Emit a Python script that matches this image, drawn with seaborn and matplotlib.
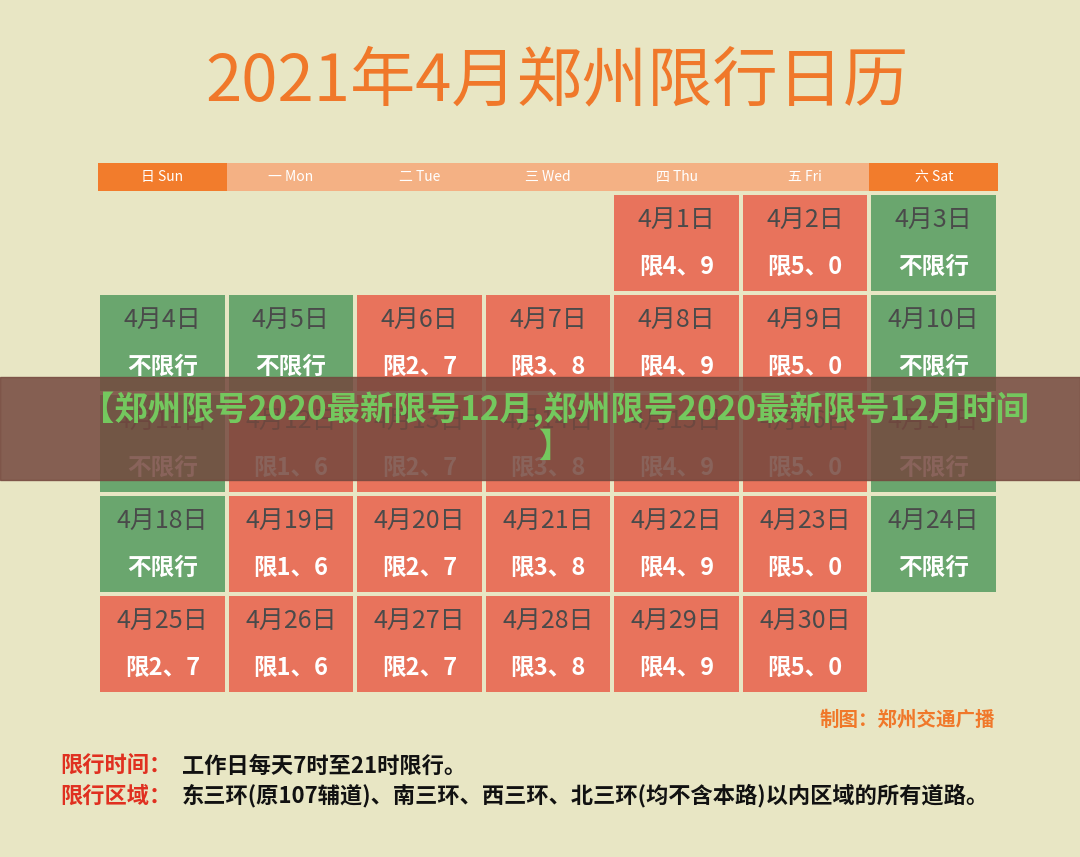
import matplotlib
matplotlib.use('Agg')
import numpy as np
import matplotlib.pyplot as plt
import seaborn as sns
from matplotlib.colors import ListedColormap

sns.set_style('white')
plt.rcParams['font.family'] = ['Noto Sans CJK SC', 'DejaVu Sans']

# data
title = '2021年4月郑州限行日历'
weekdays = ['日 Sun', '一 Mon', '二 Tue', '三 Wed', '四 Thu', '五 Fri', '六 Sat']
days = [None, None, None, None, 1, 2, 3] + list(range(4, 31)) + [None]
rules = ['', '', '', '', '限4、9', '限5、0', '不限行',
         '不限行', '不限行', '限2、7', '限3、8', '限4、9', '限5、0', '不限行',
         '不限行', '限1、6', '限2、7', '限3、8', '限4、9', '限5、0', '不限行',
         '不限行', '限1、6', '限2、7', '限3、8', '限4、9', '限5、0', '不限行',
         '限2、7', '限1、6', '限2、7', '限3、8', '限4、9', '限5、0', '']
banner = '【郑州限号2020最新限号12月,郑州限号2020最新限号12月时间\n】'

BG = '#e8e6c4'
codes = np.array([0 if d is None else (1 if r == '不限行' else 2)
                  for d, r in zip(days, rules)]).reshape(5, 7)

fig = plt.figure(figsize=(10.8, 8.57), dpi=100)
fig.patch.set_facecolor(BG)
W, H = 1080, 857

def box(x0, y0, x1, y1):
    return fig.add_axes([x0 / W, 1 - y1 / H, (x1 - x0) / W, (y1 - y0) / H])

# header row
axh = box(98, 163, 998, 191)
sns.heatmap(np.array([[1, 0, 0, 0, 0, 0, 1]]), ax=axh, cbar=False,
            cmap=ListedColormap(['#f4b184', '#f27c2c']), linewidths=0)
for i, w in enumerate(weekdays):
    axh.text(i + 0.5, 0.5, w, ha='center', va='center', color='white', fontsize=10)
axh.axis('off')

# calendar grid
axc = box(98, 193, 998, 694)
sns.heatmap(codes, ax=axc, cbar=False, vmin=0, vmax=2,
            cmap=ListedColormap([BG, '#6aa66e', '#e8735c']),
            linewidths=1.5, linecolor=BG)
k = 0
for r in range(5):
    for c in range(7):
        d = days[k]
        if d is not None:
            axc.text(c + 0.5, r + 0.27, f'4月{d}日', ha='center', va='center',
                     fontsize=18, color='#4a4a4a')
            axc.text(c + 0.5, r + 0.74, rules[k], ha='center', va='center',
                     fontsize=17, color='white', fontweight='bold')
        k += 1
axc.axis('off')

# overlay text
ax = fig.add_axes([0, 0, 1, 1], facecolor='none')
ax.set_xlim(0, W)
ax.set_ylim(H, 0)
ax.axis('off')
ax.text(557, 82, title, ha='center', va='center', fontsize=47, color='#f0782a')
ax.text(995, 720, '制图：郑州交通广播', ha='right', va='center', fontsize=14,
        color='#f0782a', fontweight='bold', style='italic')
ax.text(60, 766, '限行时间：', ha='left', va='center', fontsize=16, color='#e03020', fontweight='bold')
ax.text(182, 766, '工作日每天7时至21时限行。', ha='left', va='center', fontsize=16, color='#111111', fontweight='bold')
ax.text(60, 796, '限行区域：', ha='left', va='center', fontsize=16, color='#e03020', fontweight='bold')
ax.text(182, 796, '东三环(原107辅道)、南三环、西三环、北三环(均不含本路)以内区域的所有道路。',
        ha='left', va='center', fontsize=16, color='#111111', fontweight='bold')
ax.add_patch(plt.Rectangle((0, 377), W, 103, color='#74483e', alpha=0.85))
ax.text(555, 428, banner, ha='center', va='center', fontsize=24,
        color='#74c85e', fontweight='bold', linespacing=1.15)

fig.savefig('out.png', dpi=100, facecolor=BG)
